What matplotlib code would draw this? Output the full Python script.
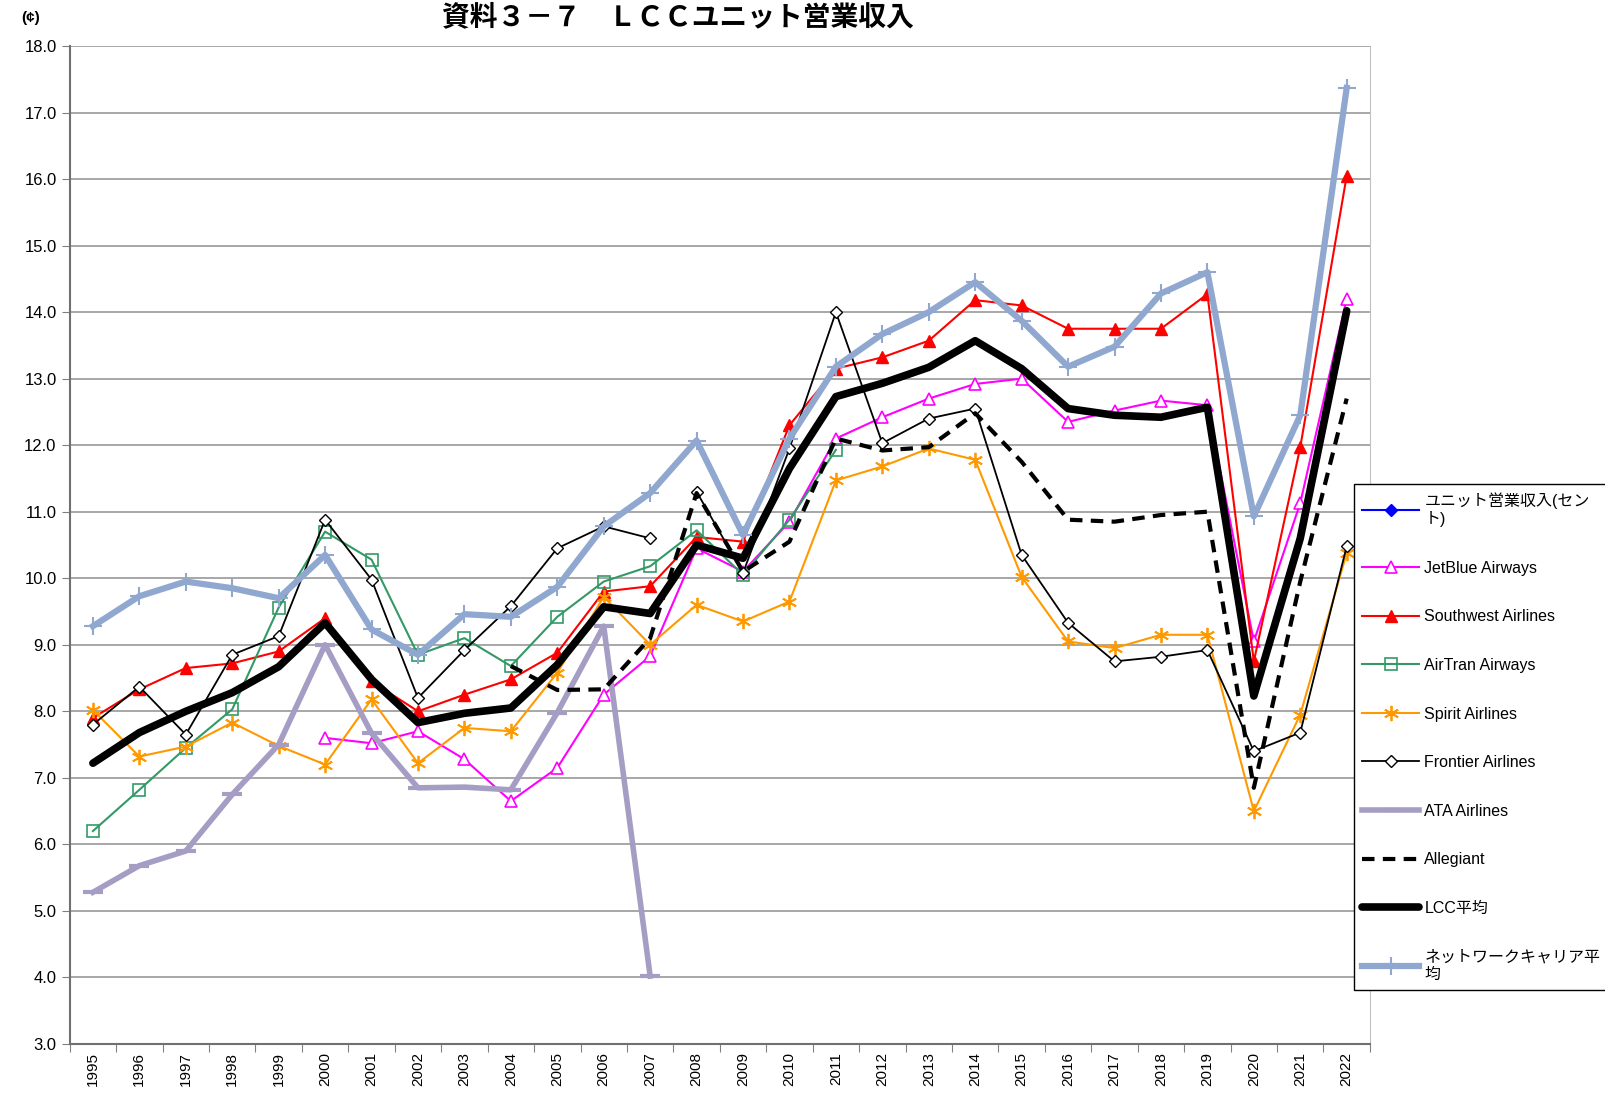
import numpy as np
import matplotlib
matplotlib.use("Agg")
from matplotlib import pyplot as plt

years = list(range(1995, 2023))
nan = np.nan

jetblue = [nan, nan, nan, nan, nan, 7.60, 7.52, 7.70, 7.28, 6.65, 7.15, 8.25, 8.83, 10.45,
           10.10, 10.85, 12.10, 12.42, 12.70, 12.92, 13.00, 12.35, 12.52, 12.67, 12.60, 9.05, 11.13, 14.20]
southwest = [7.90, 8.33, 8.65, 8.72, 8.90, 9.40, 8.45, 8.00, 8.25, 8.48, 8.88, 9.80, 9.88, 10.62,
             10.55, 12.30, 13.15, 13.32, 13.57, 14.18, 14.10, 13.75, 13.75, 13.75, 14.27, 8.75, 11.97, 16.05]
airtran = [6.20, 6.82, 7.45, 8.03, 9.56, 10.70, 10.28, 8.85, 9.10, 8.68, 9.42, 9.95, 10.18, 10.72,
           10.05, 10.88, 11.93, nan, nan, nan, nan, nan, nan, nan, nan, nan, nan, nan]
spirit = [8.02, 7.32, 7.47, 7.83, 7.48, 7.20, 8.18, 7.22, 7.75, 7.70, 8.58, 9.72, 9.00, 9.60,
          9.35, 9.65, 11.47, 11.68, 11.95, 11.78, 10.02, 9.05, 8.95, 9.15, 9.15, 6.50, 7.95, 10.38]
frontier = [7.80, 8.37, 7.65, 8.85, 9.13, 10.88, 9.98, 8.20, 8.92, 9.58, 10.45, 10.78, 10.60, 11.30,
            10.08, 11.95, 14.00, 12.03, 12.40, 12.55, 10.35, 9.33, 8.75, 8.82, 8.92, 7.40, 7.68, 10.48]
frontier_break = 12  # no line between 2007 and 2008
ata = [5.28, 5.68, 5.90, 6.75, 7.50, 9.00, 7.67, 6.85, 6.86, 6.82, 7.98, 9.28, 4.02, nan,
       nan, nan, nan, nan, nan, nan, nan, nan, nan, nan, nan, nan, nan, nan]
allegiant = [nan, nan, nan, nan, nan, nan, nan, nan, nan, 8.68, 8.32, 8.33, 9.10, 11.28,
             10.10, 10.55, 12.10, 11.92, 11.97, 12.48, 11.75, 10.88, 10.85, 10.95, 11.00, 6.85, 9.95, 12.70]
lcc_avg = [7.22, 7.68, 8.00, 8.28, 8.67, 9.33, 8.48, 7.83, 7.97, 8.05, 8.70, 9.57, 9.47, 10.50,
           10.30, 11.65, 12.73, 12.93, 13.17, 13.57, 13.15, 12.55, 12.45, 12.42, 12.57, 8.23, 10.60, 14.02]
network = [9.28, 9.73, 9.95, 9.85, 9.70, 10.35, 9.23, 8.85, 9.46, 9.42, 9.87, 10.78, 11.28, 12.07,
           10.65, 12.10, 13.18, 13.67, 14.00, 14.45, 13.87, 13.18, 13.48, 14.28, 14.60, 10.93, 12.45, 17.37]

plt.rcParams['font.family'] = ['Liberation Sans', 'Noto Sans CJK JP']

fig = plt.figure(figsize=(16.06, 11.08), dpi=100)
ax = fig.add_axes([0.0434, 0.0578, 0.8096, 0.9007])

x = np.arange(len(years))

ax.plot([], [], color='#0000FF', marker='D', ms=6, lw=1.5, label='ユニット営業収入(セン\nト)')
ax.plot(x, jetblue, color='#FF00FF', marker='^', ms=9, mfc='white', mew=1.2, lw=1.5,
        label='JetBlue Airways')
ax.plot(x, southwest, color='#FF0000', marker='^', ms=9, lw=1.5, label='Southwest Airlines')
ax.plot(x, airtran, color='#339966', marker='s', ms=9, mfc='none', mew=1.2, lw=1.5,
        label='AirTran Airways')
ax.plot(x, spirit, color='#FF9900', marker=(6, 2, 0), ms=11, mew=1.3, lw=1.5,
        label='Spirit Airlines')
fx = np.insert(x.astype(float), frontier_break + 1, frontier_break + 0.5)
fy = np.insert(np.array(frontier), frontier_break + 1, nan)
ax.plot(fx, fy, color='black', marker='D', ms=6.5, mfc='white', mew=1.0, lw=1.3,
        label='Frontier Airlines')
ax.plot(x, ata, color='#A59DC3', marker='_', ms=14, mew=3, lw=4, label='ATA Airlines')
ax.plot(x, allegiant, color='black', ls=(0, (3, 2)), lw=3, label='Allegiant')
ax.plot(x, lcc_avg, color='black', lw=5.5, solid_capstyle='round', label='LCC平均')
ax.plot(x, network, color='#90A8CF', marker='+', ms=13, mew=1.5, lw=4.5,
        label='ネットワークキャリア平\n均')

ax.set_xlim(-0.5, len(years) - 0.5)
ax.set_ylim(3, 18)
ax.set_yticks(np.arange(3, 18.1, 1.0))
ax.set_yticklabels([f'{v:.1f}' for v in np.arange(3, 18.1, 1.0)], fontsize=12)
ax.yaxis.grid(True, color='#A0A0A0', lw=1.3)
ax.set_axisbelow(True)

ax.set_xticks(np.arange(-0.5, len(years), 1.0))
ax.set_xticklabels([])
ax.set_xticks(x, minor=True)
ax.set_xticklabels([str(y) for y in years], minor=True, rotation=90, fontsize=11)
ax.tick_params(axis='x', which='minor', length=0, pad=6)
ax.tick_params(axis='x', which='major', length=6, color='#808080')
ax.tick_params(axis='y', length=6, color='#808080')

for s in ['left', 'bottom']:
    ax.spines[s].set_color('#707070')
    ax.spines[s].set_linewidth(1.5)
ax.spines['right'].set_color('#C0C0C0')
ax.spines['top'].set_visible(False)

leg = fig.legend(loc='upper left', bbox_to_anchor=(0.8381, 0.5704), fontsize=11.5,
                 frameon=True, fancybox=False, edgecolor='black', framealpha=1,
                 handlelength=3.6, labelspacing=2.1, borderpad=0.5, handletextpad=0.3)
leg.get_frame().set_linewidth(1.0)

fig.text(0.422, 0.984, '資料３－７　ＬＣＣユニット営業収入', ha='center', va='center',
         fontsize=20, fontweight='bold')
fig.text(0.013, 0.984, '(¢)', ha='left', va='center', fontsize=11, fontweight='bold')

fig.savefig('out.png', dpi=100)
